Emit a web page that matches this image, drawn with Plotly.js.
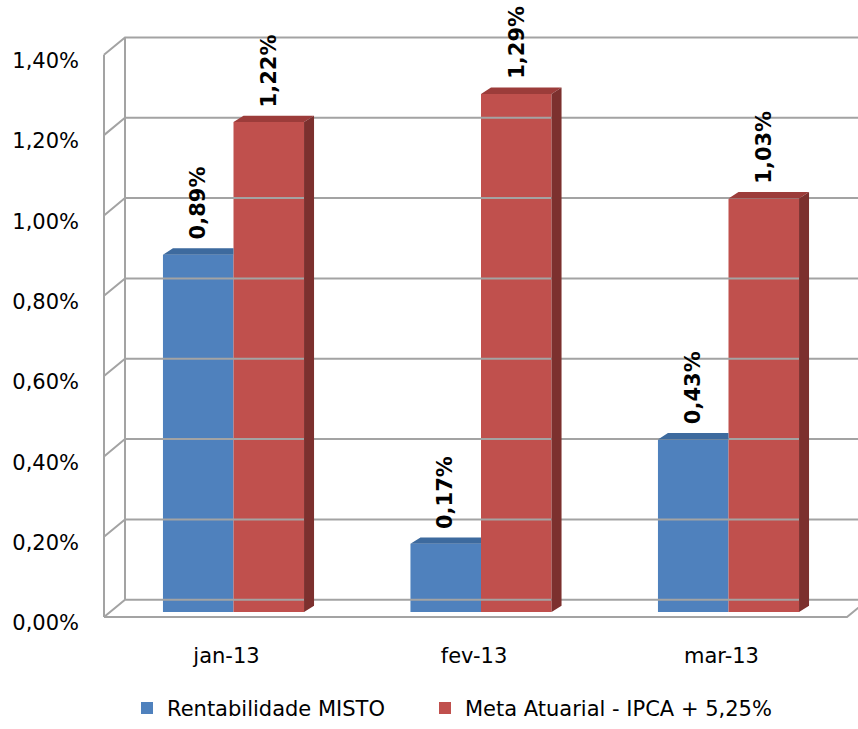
<!DOCTYPE html>
<html>
<head>
<meta charset="utf-8">
<script src="https://cdn.plot.ly/plotly-3.0.1.min.js"></script>
<style>
  html, body { margin: 0; padding: 0; background: #ffffff; }
  #chart { width: 858px; height: 729px; }
</style>
</head>
<body>
<div id="chart"></div>
<script>
// ---- data ----
var categories = ['jan-13', 'fev-13', 'mar-13'];
var seriesNames = ['Rentabilidade MISTO', 'Meta Atuarial - IPCA + 5,25%'];
var rentabilidade = [0.89, 0.17, 0.43];
var metaAtuarial = [1.22, 1.29, 1.03];
var yTickValues = [0, 0.2, 0.4, 0.6, 0.8, 1.0, 1.2, 1.4];

// ---- styling / geometry ----
var FONT = 'DejaVu Sans';
var colors = ['#4f81bd', '#c0504d'];
var topColors = ['#3d6a9e', '#9c3c3a'];
var sideColors = ['#33598a', '#7c302e'];
var gridColor = '#a3a3a3';

var W = 858, H = 729;
var plotTop = 28, plotBottom = 632;        // pixel extent of the plot area
var M = {l: 100, r: 0, t: plotTop, b: H - plotBottom};
var plotW = W - M.l - M.r;
var pxPerCat = 247.5, xCenter0 = 233.5;
var x0 = -(xCenter0 - M.l) / pxPerCat;
var x1 = x0 + plotW / pxPerCat;
var pxPerY = 405, yZeroPx = 617, yMax = 1.4;
var yLo = -(plotBottom - yZeroPx) / pxPerY;
var yHi = (yZeroPx - plotTop) / pxPerY;
function dxPx(p) { return p / pxPerCat; }
function dyPx(p) { return p / pxPerY; }
function xAtPx(p) { return (p - xCenter0) / pxPerCat; }

var bargap = 0.43;
var w = (1 - bargap) / 2;
var depthX = dxPx(10), depthY = dyPx(6.5);
var frontOff = dyPx(5), backOff = dyPx(12.5);
var xFrontLeft = xAtPx(104);
var xBackLeft = xAtPx(125);
var xFrontRight = xAtPx(847);

function fmt(v) { return v.toFixed(2).replace('.', ',') + '%'; }
var idx = categories.map(function (c, i) { return i; });
var series = [rentabilidade, metaAtuarial];

var traces = [];
// wall / floor lines computed from the tick values
var gx = [], gy = [];
yTickValues.forEach(function (v) {
  gx.push(xFrontLeft, xBackLeft, x1, null);
  gy.push(v - frontOff, v + backOff, v + backOff, null);
});
gx.push(xFrontLeft, xFrontLeft, null, xBackLeft, xBackLeft, null,
        xFrontLeft, xFrontRight, xFrontRight + dxPx(21), null);
gy.push(-frontOff, yMax - frontOff, null, backOff, yMax + backOff, null,
        -frontOff, -frontOff, backOff, null);
traces.push({
  type: 'scatter', mode: 'lines', x: gx, y: gy,
  line: {color: gridColor, width: 2}, hoverinfo: 'skip', showlegend: false
});

// front faces: bar traces
series.forEach(function (vals, s) {
  traces.push({
    type: 'bar', x: idx, y: vals, name: seriesNames[s],
    legend: s === 0 ? 'legend' : 'legend2',
    marker: {color: colors[s], line: {width: 0}},
    hoverinfo: 'skip'
  });
});

// 3D top / side faces
series.forEach(function (vals, s) {
  var tx = [], ty = [], sx = [], sy = [];
  vals.forEach(function (v, i) {
    var left = i - w + s * w, right = left + w;
    var other = series[s + 1];
    var hidden = other && other[i] >= v;
    var topRight = hidden ? right : right + depthX;
    tx.push(left, left + depthX, topRight, right, null);
    ty.push(v, v + depthY, v + depthY, v, null);
    if (!hidden) {
      sx.push(right, right + depthX, right + depthX, right, null);
      sy.push(0, depthY, v + depthY, v, null);
    }
  });
  traces.push({type: 'scatter', mode: 'lines', x: tx, y: ty, fill: 'toself',
    fillcolor: topColors[s], line: {width: 0, color: topColors[s]},
    hoverinfo: 'skip', showlegend: false});
  if (sx.length) traces.push({type: 'scatter', mode: 'lines', x: sx, y: sy, fill: 'toself',
    fillcolor: sideColors[s], line: {width: 0, color: sideColors[s]},
    hoverinfo: 'skip', showlegend: false});
});

// data labels
var annotations = [];
series.forEach(function (vals, s) {
  vals.forEach(function (v, i) {
    annotations.push({
      x: i - w / 2 + s * w, y: v, xref: 'x', yref: 'y',
      text: fmt(v), textangle: -90, showarrow: false,
      xanchor: 'center', yanchor: 'bottom', yshift: 13,
      font: {family: FONT, size: 21, color: '#000000', weight: 'bold'}
    });
  });
});

var plotH = plotBottom - plotTop;
function legendY(px) { return (plotBottom - px) / plotH; }
function legendX(px) { return (px - M.l) / plotW; }

var layout = {
  width: W, height: H,
  margin: M,
  paper_bgcolor: '#ffffff', plot_bgcolor: 'rgba(0,0,0,0)',
  barmode: 'group', bargap: bargap, bargroupgap: 0,
  showlegend: true,
  font: {family: FONT, size: 21, color: '#000000'},
  xaxis: {
    range: [x0, x1], tickmode: 'array', tickvals: idx, ticktext: categories,
    showgrid: false, zeroline: false, showline: false, ticks: '',
    tickfont: {family: FONT, size: 21, color: '#000000'},
    ticklabelshift: -7, ticklabelstandoff: 14, fixedrange: true
  },
  yaxis: {
    range: [yLo, yHi], showgrid: false, zeroline: false, showline: false,
    showticklabels: false, ticks: '', fixedrange: true
  },
  yaxis2: {
    overlaying: 'y', anchor: 'x', side: 'left',
    range: [yLo + dyPx(11), yHi + dyPx(11)], tickmode: 'array', tickvals: yTickValues,
    ticktext: yTickValues.map(fmt), showgrid: false, zeroline: false, showline: false,
    ticks: '', ticklabelstandoff: 20,
    tickfont: {family: FONT, size: 21, color: '#000000'}, fixedrange: true
  },
  legend: {
    orientation: 'h', x: legendX(127), xanchor: 'left',
    y: legendY(714), yanchor: 'middle',
    font: {family: FONT, size: 21, color: '#000000'}, bgcolor: 'rgba(0,0,0,0)'
  },
  legend2: {
    orientation: 'h', x: legendX(425), xanchor: 'left',
    y: legendY(714), yanchor: 'middle',
    font: {family: FONT, size: 21, color: '#000000'}, bgcolor: 'rgba(0,0,0,0)'
  },
  annotations: annotations
};

// invisible trace to activate yaxis2 (front-plane tick labels)
traces.push({type: 'scatter', x: [idx[0]], y: [0], yaxis: 'y2', mode: 'markers',
  marker: {opacity: 0}, showlegend: false, hoverinfo: 'skip'});

Plotly.newPlot('chart', traces, layout, {displayModeBar: false, staticPlot: true});
</script>
</body>
</html>
